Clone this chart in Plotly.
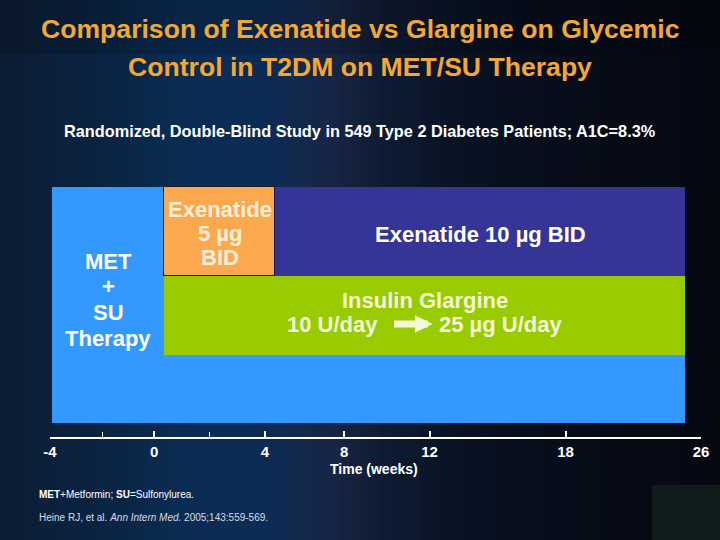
import numpy as np
import plotly.graph_objects as go

# ---------------- data ----------------
PHASES = ["MET + SU Therapy", "Exenatide 5 µg BID", "Exenatide 10 µg BID", "Insulin Glargine"]
PHASE_START = [-4, 0, 4, 0]     # weeks
PHASE_END = [26, 4, 26, 26]     # weeks
PHASE_COLORS = ["#3399ff", "#fca84e", "#353597", "#99cc00"]

TICK_WEEKS = [-4, 0, 4, 8, 12, 18, 26]
TICK_LABELS = ["-4", "0", "4", "8", "12", "18", "26"]
MINOR_WEEKS = [-2, 2]

TITLE_LINES = ["Comparison of Exenatide vs Glargine on Glycemic", "Control in T2DM on MET/SU Therapy"]
SUBTITLE = "Randomized, Double-Blind Study in 549 Type 2 Diabetes Patients; A1C=8.3%"

# ---------------- scales (non-uniform, as drawn on the slide) ----------------
W, H = 720, 540
DIAG_KNOT_WEEKS = [-4, 0, 4, 26]
DIAG_KNOT_POS = [52 / W, 164 / W, 275 / W, 685 / W]
TIME_KNOT_WEEKS = [-4, 0, 4, 8, 12, 18, 26]
TIME_KNOT_POS = [0.0, 0.16, 0.33, 0.452, 0.583, 0.792, 1.0]


def diag_x(w):
    return np.interp(w, DIAG_KNOT_WEEKS, DIAG_KNOT_POS)


def time_x(w):
    return np.interp(w, TIME_KNOT_WEEKS, TIME_KNOT_POS)


# vertical layout of rows (fraction of figure height, from top)
ROW_TOP = 187 / H
ROW_MID = 276 / H
ROW_LOW = 355 / H
ROW_BOT = 423 / H
row_span = {
    0: (ROW_TOP, ROW_BOT),
    1: (ROW_TOP, ROW_MID),
    2: (ROW_TOP, ROW_MID),
    3: (ROW_MID, ROW_LOW),
}

FONT = "Liberation Sans Narrow, Arial Narrow, Liberation Sans, Arial, sans-serif"
FONT_W = "Liberation Sans, Arial, Helvetica, sans-serif"

fig = go.Figure()

# ---------------- background gradient ----------------
shapes = []
bg_x = [0, 100, 180, 260, 330, 380, 460, 560, 720]
bg_r = [13, 11, 10, 12, 24, 16, 9, 7, 5]
bg_g = [29, 36, 44, 44, 38, 28, 19, 13, 9]
bg_b = [52, 66, 84, 86, 70, 52, 36, 26, 18]
n = 72
for i in range(n):
    xc = (i + 0.5) * W / n
    r = int(np.interp(xc, bg_x, bg_r))
    g = int(np.interp(xc, bg_x, bg_g))
    b = int(np.interp(xc, bg_x, bg_b))
    shapes.append(dict(type="rect", xref="paper", yref="paper",
                       x0=i / n, x1=(i + 1) / n + 0.002, y0=0, y1=1,
                       fillcolor=f"rgb({r},{g},{b})", line=dict(width=0), layer="below"))
shapes.append(dict(type="rect", xref="paper", yref="paper", x0=0, x1=1, y0=0.9, y1=1,
                   fillcolor="rgba(0,0,0,0.15)", line=dict(width=0), layer="below"))
shapes.append(dict(type="rect", xref="paper", yref="paper", x0=652 / W, x1=1, y0=0, y1=55 / H,
                   fillcolor="#101b1c", line=dict(width=0), layer="below"))

# ---------------- phase bars ----------------
for i, name in enumerate(PHASES):
    y0, y1 = row_span[i]
    x0 = float(diag_x(PHASE_START[i]))
    x1 = float(diag_x(PHASE_END[i]))
    fig.add_trace(go.Bar(
        orientation="h", y=[(y0 + y1) / 2], x=[x1 - x0], base=[x0], width=[y1 - y0],
        marker=dict(color=PHASE_COLORS[i],
                    line=dict(color="#1a1a1a" if i == 1 else PHASE_COLORS[i], width=1 if i == 1 else 0)),
        name=name, showlegend=False, hoverinfo="name",
        xaxis="x", yaxis="y"))

# ---------------- bottom time axis (invisible trace to activate axis) ----------------
fig.add_trace(go.Scatter(x=[float(time_x(w)) for w in TICK_WEEKS], y=[0.5] * len(TICK_WEEKS),
                         mode="markers", marker=dict(opacity=0), xaxis="x2", yaxis="y2",
                         showlegend=False, hoverinfo="skip"))

ann = []
for k, line in enumerate(TITLE_LINES):
    ann.append(dict(text=f"<b>{line}</b>", x=0.5, y=1 - (29 + 38 * k) / H, xref="paper", yref="paper",
                    showarrow=False, font=dict(family=FONT, size=26.6, color="#f3a834"),
                    xanchor="center", yanchor="middle"))
ann.append(dict(text=f"<b>{SUBTITLE}</b>", x=0.5, y=1 - 131 / H, xref="paper", yref="paper",
                showarrow=False, font=dict(family=FONT, size=16.3, color="#ffffff"),
                xanchor="center", yanchor="middle"))


def cx(i):
    return float((diag_x(PHASE_START[i]) + diag_x(PHASE_END[i])) / 2)


def add_lines(lines, x, ys, color, **kw):
    for t, yy in zip(lines, ys):
        d = dict(text=f"<b>{t}</b>", x=x, y=yy / H, xref="x", yref="y", showarrow=False,
                 font=dict(family=FONT_W, size=22, color=color),
                 xanchor="center", yanchor="middle")
        d.update(kw)
        ann.append(d)


met_cx = float((diag_x(-4) + diag_x(0)) / 2)
add_lines(["MET", "+", "SU", "Therapy"], met_cx, [261, 286, 312, 338], "#ffffff")
add_lines(["Exenatide", "5 µg", "BID"], cx(1), [209, 233, 257], "#fff0d8")
add_lines(["Exenatide 10 µg BID"], cx(2), [234], "#ffffff")
gl_cx = cx(3)
add_lines(["Insulin Glargine"], gl_cx, [300], "#f4f8d8")
ann.append(dict(text="<b>10 U/day</b>", x=gl_cx, xshift=-45, y=324 / H, xref="x", yref="y",
                showarrow=False, font=dict(family=FONT_W, size=22, color="#f4f8d8"),
                xanchor="right", yanchor="middle"))
ann.append(dict(text="<b>25 µg U/day</b>", x=gl_cx, xshift=12, y=324 / H, xref="x", yref="y",
                showarrow=False, font=dict(family=FONT_W, size=22, color="#f4f8d8"),
                xanchor="left", yanchor="middle"))
ann.append(dict(text="", x=gl_cx, xshift=8, y=324 / H, xref="x", yref="y",
                showarrow=True, ax=-40, ay=0, arrowhead=2, arrowsize=0.5, arrowwidth=7,
                arrowcolor="#f4f8d8", standoff=0))

ann.append(dict(text="<b>Time (weeks)</b>", x=374 / W, y=1 - 469 / H, xref="paper", yref="paper",
                showarrow=False, font=dict(family=FONT, size=14, color="#ffffff"),
                xanchor="center", yanchor="middle"))
ann.append(dict(text="<b>MET</b>+Metformin; <b>SU</b>=Sulfonylurea.", x=37 / W, y=1 - 494 / H,
                xref="paper", yref="paper", showarrow=False,
                font=dict(family=FONT, size=10, color="#ffffff"), xanchor="left", yanchor="middle"))
ann.append(dict(text="Heine RJ, et al. <i>Ann Intern Med.</i> 2005;143:559-569.", x=37 / W, y=1 - 517 / H,
                xref="paper", yref="paper", showarrow=False,
                font=dict(family=FONT, size=10, color="#d8dce4"), xanchor="left", yanchor="middle"))

fig.update_layout(
    width=W, height=H, margin=dict(l=0, r=0, t=0, b=0, pad=0, autoexpand=False),
    paper_bgcolor="#0a1628", plot_bgcolor="rgba(0,0,0,0)",
    barmode="overlay", bargap=0, showlegend=False,
    shapes=shapes, annotations=ann,
    xaxis=dict(domain=[0, 1], range=[0, 1], visible=False, fixedrange=True, automargin=False),
    yaxis=dict(domain=[0, 1], range=[1, 0], visible=False, fixedrange=True, automargin=False),
    xaxis2=dict(domain=[50 / W, 701 / W], range=[0, 1], anchor="y2", automargin=False,
                tickvals=[float(time_x(w)) for w in TICK_WEEKS], ticktext=TICK_LABELS,
                ticks="inside", ticklen=6, tickwidth=2, tickcolor="#ffffff",
                showline=True, linecolor="#ffffff", linewidth=2, showgrid=False, zeroline=False,
                tickfont=dict(family=FONT, size=15, color="#ffffff", weight="bold"),
                minor=dict(tickvals=[float(time_x(w)) for w in MINOR_WEEKS], ticks="inside",
                           ticklen=5, tickwidth=1, tickcolor="#ffffff"),
                fixedrange=True),
    yaxis2=dict(domain=[(H - 437) / H, 1], range=[0, 1], visible=False, fixedrange=True,
                automargin=False),
)

fig.write_html("out.html", config={"displayModeBar": False},
               post_script="document.body.style.margin='0';document.body.style.overflow='hidden';")
